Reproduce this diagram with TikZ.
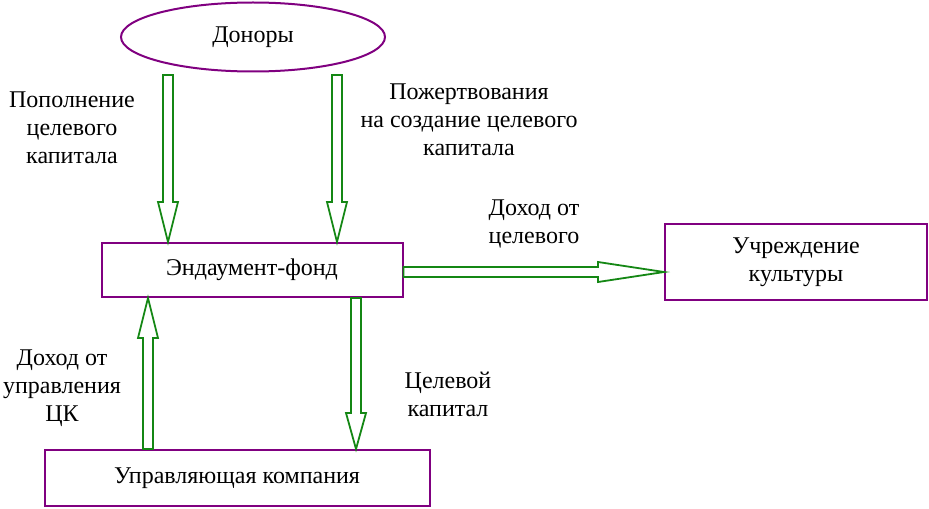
\documentclass[tikz,border=0pt]{standalone}
\usepackage{fontspec}
\setmainfont{Liberation Serif}
\usetikzlibrary{shapes.geometric,calc}
\definecolor{boxpurple}{RGB}{128,0,128}
\definecolor{arrgreen}{RGB}{20,135,20}
% hollow double arrow: [head length]{start}{end}
\newcommand{\hollowarrow}[3][20pt]{%
  \coordinate (hb) at ($(#3)!#1!(#2)$);
  \draw[hollow] ($(#2)!2.5pt!90:(#3)$) -- ($(hb)!2.5pt!90:(#3)$) -- ($(hb)!5pt!90:(#3)$)
    -- (#3) -- ($(hb)!5pt!-90:(#3)$) -- ($(hb)!2.5pt!-90:(#3)$) -- ($(#2)!2.5pt!-90:(#3)$) -- cycle;
}
\begin{document}
\begin{tikzpicture}[x=0.5pt, y=-0.5pt,
  every node/.style={font=\fontsize{12}{14}\selectfont, align=center},
  box/.style={draw=boxpurple, line width=1pt, rectangle, inner sep=0pt},
  hollow/.style={draw=arrgreen, line width=0.9pt, fill=white, line join=miter}]
\useasboundingbox (0,0) rectangle (929,508);
% blocks
\node[box, ellipse, minimum width=132pt, minimum height=34.5pt] (donors) at (253,37) {Доноры};
\node[box, minimum width=150.5pt, minimum height=27pt] (fund) at (252,270) {Эндаумент-фонд};
\node[box, minimum width=131pt, minimum height=38pt] (culture) at (796,262) {Учреждение\\культуры};
\node[box, minimum width=192.5pt, minimum height=28pt] (company) at (237,478) {Управляющая компания};
% labels
\node (l1) at (72,128) {Пополнение\\целевого\\капитала};
\node (l2) at (469,120) {Пожертвования\\на создание целевого\\капитала};
\node (l3) at (534,224) {Доход от\\целевого};
\node (l4) at (62,388) {Доход от\\управления\\ЦК};
\node (l5) at (448,394) {Целевой\\капитал};
% arrows
\coordinate (dl) at (168,75);
\coordinate (dr) at (337,75);
\coordinate (fr) at ($(fund.east)+(0,2)$);
\coordinate (cu) at (148,0);
\coordinate (cd) at (356,0);
\hollowarrow{dl}{dl |- fund.north}
\hollowarrow{dr}{dr |- fund.north}
\hollowarrow[33pt]{fr}{fr -| culture.west}
\hollowarrow{cu |- company.north}{cu |- fund.south}
\hollowarrow[18pt]{cd |- fund.south}{cd |- company.north}
\end{tikzpicture}
\end{document}
